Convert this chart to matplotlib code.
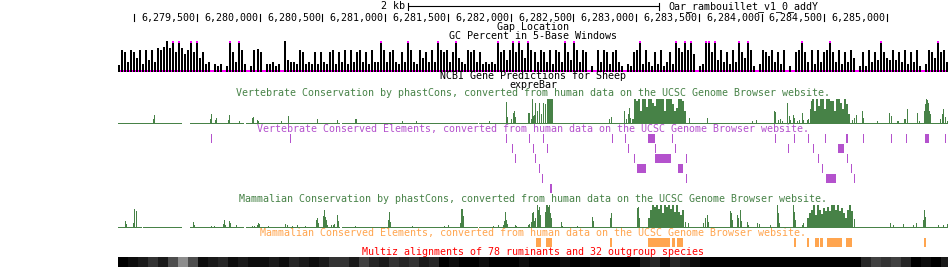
import matplotlib
matplotlib.use("Agg")
import matplotlib.pyplot as plt

# ---------------- data ----------------
CHROM = "Oar_rambouillet_v1_0_addY"
VIEW_START, VIEW_END = 6278870, 6285486
RULER_TICKS = [6279000, 6279500, 6280000, 6280500, 6281000, 6281500, 6282000,
               6282500, 6283000, 6283500, 6284000, 6284500, 6285000]
SCALE_BAR_START, SCALE_BAR_BP = 6281182, 2000
SCALE_BAR_LABEL = "2 kb"

# GC percent (5-base windows summarised), view range 30-70 %
GC_START, GC_STEP = 6278870, 24
GC_RANGE = (30, 70)
gc_pct = [39, 58, 56, 43, 58, 56, 48, 58, 40,
          58, 45, 58, 43, 61, 58, 62, 69, 61,
          75, 56, 75, 61, 53, 58, 75, 56, 75,
          48, 56, 40, 43, 28, 40, 38, 40, 28,
          38, 75, 56, 43, 75, 58, 40, 28, 38, 58,
          60, 56, 28, 40, 40, 43, 38, 40, 28,
          69, 45, 43, 43, 40, 58, 56, 40, 43,
          40, 56, 40, 56, 43, 40, 56, 58, 40,
          56, 43, 58, 40, 58, 43, 56, 58, 43,
          56, 40, 58, 43, 43, 75, 58, 43, 56,
          58, 43, 40, 56, 43, 75, 58, 43, 40,
          58, 48, 56, 43, 58, 43, 75, 58, 56,
          58, 43, 56, 75, 48, 43, 40, 58, 56,
          58, 43, 56, 40, 43, 40, 43, 40, 75,
          56, 58, 45, 58, 75, 56, 75, 58, 48, 75, 58, 56, 43,
          58, 56, 43, 58, 40, 58, 56, 43, 75, 56, 45, 75, 58, 43, 58, 56,
          28, 38, 28, 58, 43, 58, 56, 40, 56, 58, 43, 38, 28, 40, 38, 56, 58, 75,
          40, 58, 43, 38, 56, 40, 58, 38, 43, 56, 40, 75, 61, 56, 75, 58, 75, 53,
          28, 38, 40, 75, 75, 56, 75, 45, 58, 43, 56, 40, 58, 43, 75, 56, 48, 75, 58,
          38, 28, 40, 58, 56, 51, 58, 43, 56, 40, 58, 28, 38, 28, 56, 58, 75,
          56, 43, 58, 40, 58, 43, 56, 58, 75, 56, 43, 58, 40, 56, 43, 58, 48,
          28, 38, 56, 38, 58, 43, 56, 45, 75, 56, 48, 45, 58, 45, 56, 43, 58, 40, 56, 43, 58,
          38, 28, 40, 58, 56, 48, 75, 56, 58, 43, 40]

# Vertebrate phastCons (score 0-1)
vert_segments = [(6278870, 6279380), (6279444, 6279874), (6279890, 6280640),
                 (6280656, 6281740), (6281748, 6285486)]
vert_peak_pos = [6279149, 6279157, 6279603, 6279611, 6279643, 6279651, 6279747, 6279755, 6279834, 6279938,
                 6279946, 6279978, 6279986, 6280169, 6280225, 6280456, 6280616, 6280759, 6280767, 6281134,
                 6281245, 6281827, 6281963, 6281971, 6282003, 6282019, 6282027, 6282034, 6282138, 6282146,
                 6282162, 6282170, 6282178, 6282186, 6282194, 6282210, 6282226, 6282242, 6282258, 6282274,
                 6282290, 6282298, 6282306, 6282314, 6282322, 6282330,
                 6282784, 6282800, 6282903, 6282919, 6282935, 6282943, 6282951,
                 6283421, 6283565, 6283924, 6283955,
                 6284099, 6284107, 6284131, 6284147, 6284163, 6284203, 6284219, 6284227, 6284250, 6284258,
                 6284282, 6284298, 6284322, 6284330, 6284362, 6284370, 6284386, 6284394,
                 6284721, 6284737, 6284753, 6284800, 6284808, 6284920,
                 6285016, 6285032, 6285079, 6285087, 6285135, 6285143, 6285159, 6285239, 6285255,
                 6285295, 6285303, 6285311, 6285319, 6285327, 6285335, 6285343,
                 6285422, 6285438, 6285446, 6285462, 6285478]
vert_peak_score = [0.17, 0.33, 0.17, 0.38, 0.13, 0.19, 0.13, 0.33, 0.08, 0.21,
                   0.25, 0.13, 0.08, 0.06, 0.29, 0.17, 0.13, 0.17, 0.17, 0.06,
                   0.08, 0.06, 0.88, 0.25, 0.17, 0.42, 0.5, 0.25, 0.42, 0.42,
                   0.17, 1.0, 0.29, 0.33, 0.83, 0.5, 0.83, 0.38, 0.83, 0.79,
                   1.0, 1.0, 1.0, 1.0, 1.0, 1.0,
                   0.17, 0.25, 0.5, 0.17, 0.38, 0.63, 0.21,
                   0.21, 0.21, 0.06, 0.13,
                   0.5, 0.46, 0.13, 0.17, 0.08, 0.83, 0.29, 0.13, 0.33, 0.21,
                   0.08, 0.13, 0.42, 0.13, 0.13, 0.17, 0.58, 0.92,
                   0.13, 0.21, 0.33, 0.5, 0.21, 0.06,
                   0.42, 0.29, 0.08, 0.08, 0.17, 0.17, 0.58, 0.42, 0.08,
                   0.5, 0.79, 1.0, 0.96, 0.83, 0.5, 0.38,
                   0.17, 0.38, 0.58, 0.25, 0.08]
CONS_STEP = 16
vert_block1_start = 6282967
vert_block1 = [0.17, 1, 0.92, 1, 0.5, 1, 1, 0.67, 1, 1, 0.83, 0.71, 1, 1, 1, 1, 0.5, 1, 1, 1,
               0.79, 0.5, 0.63, 1, 1, 0.92, 0.5]
vert_block2_start = 6284402
vert_block2 = [1, 0.5, 1, 0.71, 1, 1, 0.58, 1, 1, 0.92, 0.92, 0.5, 1, 1, 0.83, 0.58, 1, 0.79, 0.38]

# Vertebrate conserved elements, packed rows: (start, end)
vert_elem_rows = [
    [(6279611, 6279621), (6280241, 6280251), (6281963, 6281973), (6282146, 6282156), (6282258, 6282268),
     (6282808, 6282818), (6282911, 6282921), (6283095, 6283150), (6283286, 6283296), (6284107, 6284117),
     (6284258, 6284268), (6284370, 6284380), (6284506, 6284516), (6284673, 6284689), (6284808, 6284818),
     (6285032, 6285042), (6285151, 6285161), (6285303, 6285335), (6285462, 6285472)],
    [(6282011, 6282021), (6282178, 6282188), (6282290, 6282300), (6282935, 6282945), (6283150, 6283160),
     (6283310, 6283320), (6284211, 6284221), (6284410, 6284420), (6284609, 6284657)],
    [(6282034, 6282044), (6282194, 6282204), (6282983, 6282993), (6283150, 6283278), (6283398, 6283408),
     (6284450, 6284460), (6284681, 6284691)],
    [(6282226, 6282236), (6283007, 6283079), (6283334, 6283373), (6284482, 6284492), (6284713, 6284723)],
    [(6282250, 6282260), (6283398, 6283408), (6284513, 6284593), (6284737, 6284747)],
    [(6282313, 6282330)],
]

# Mammalian phastCons
mam_segments = [(6278870, 6279061), (6279069, 6279380), (6279444, 6279874), (6279890, 6280640),
                (6280656, 6281740), (6281748, 6285486)]
mam_peak_pos = [6278926, 6278934, 6278990, 6278998, 6279013, 6279468, 6279476, 6279611, 6279635, 6279707,
                6279715, 6279723, 6279755, 6279763, 6279811, 6279938, 6279954, 6279978, 6279986, 6279994,
                6280066, 6280201, 6280217, 6280257, 6280297, 6280361, 6280448, 6280456, 6280464, 6280504,
                6280512, 6280520, 6280528, 6280536, 6280568, 6280584, 6280592, 6280616, 6280624, 6280759,
                6281022, 6281030, 6281038, 6281214, 6281469, 6281500, 6281596, 6281604, 6281612, 6281620,
                6281859, 6281899, 6281939, 6281947, 6281955, 6281963, 6281971, 6282034, 6282042, 6282138,
                6282146, 6282162, 6282170, 6282178, 6282186, 6282194, 6282210, 6282218, 6282226, 6282234,
                6282274, 6282282, 6282290, 6282298, 6282306, 6282314, 6282322, 6282401, 6282409, 6282529,
                6282648, 6282656, 6282792, 6282800, 6283007, 6283015, 6283023, 6283390, 6283413, 6283533,
                6283549, 6283565, 6283573, 6283748, 6283756, 6283764, 6283804, 6283812, 6283828, 6283836,
                6283884, 6283892, 6283963, 6283979, 6284067, 6284123, 6284131, 6284139, 6284250, 6284258,
                6284266, 6284322, 6284330, 6284737, 6285024, 6285048, 6285127, 6285207, 6285231, 6285287,
                6285295, 6285303, 6285406, 6285446, 6285478]
mam_peak_score = [0.26, 0.13, 0.17, 0.78, 0.7, 0.22, 0.09, 0.04, 0.04, 0.13,
                  0.3, 0.09, 0.26, 0.17, 0.07, 0.04, 0.04, 0.07, 0.17, 0.13,
                  0.04, 0.11, 0.07, 0.04, 0.07, 0.04, 0.3, 0.39, 0.17, 0.48,
                  0.74, 0.43, 0.3, 0.09, 0.07, 0.07, 0.13, 0.52, 0.26, 0.04,
                  0.3, 0.65, 0.22, 0.04, 0.04, 0.07, 0.17, 0.78, 0.78, 0.48,
                  0.04, 0.07, 0.09, 0.26, 0.65, 0.3, 0.13, 0.09, 0.04, 0.07,
                  0.13, 0.22, 0.61, 0.65, 0.26, 0.39, 0.96, 0.74, 0.87, 0.52,
                  0.65, 0.96, 0.96, 0.87, 0.96, 0.61, 0.39, 0.22, 0.04, 0.04,
                  0.43, 0.26, 0.39, 0.61, 0.83, 0.87, 0.39, 0.22, 0.17, 0.17,
                  0.39, 0.52, 0.22, 0.7, 0.61, 0.3, 0.52, 0.39, 0.74, 0.26,
                  0.22, 0.09, 0.17, 0.13, 0.09, 0.96, 0.61, 0.17, 0.96, 0.65,
                  0.3, 0.09, 0.17, 0.35, 0.17, 0.07, 0.13, 0.09, 0.17, 0.3,
                  0.74, 0.43, 0.09, 0.07, 0.13]
mam_block1_start = 6283095
mam_block1 = [0.39, 0.74, 0.96, 0.87, 0.96, 0.78, 0.96, 0.61, 0.96, 0.87, 0.96, 0.78, 0.96, 0.65,
              0.96, 0.65, 0.52, 0.74]
mam_block2_start = 6284362
mam_block2 = [0.39, 0.61, 0.74, 0.96, 0.52, 0.96, 0.74, 0.57, 0.83, 0.7, 0.87, 0.7, 0.96, 0.96,
              0.74, 0.96, 0.7, 0.83, 0.61, 0.39, 0.74, 0.96, 0.7]

# Mammalian conserved elements
mam_elems = [(6282202, 6282242), (6282282, 6282330), (6282792, 6282808), (6283095, 6283270),
             (6283286, 6283310), (6283326, 6283373), (6284258, 6284274), (6284362, 6284378),
             (6284426, 6284458), (6284466, 6284490), (6284521, 6284641), (6284673, 6284721),
             (6285295, 6285311)]

# Multiz conservation density (0 = none, 1 = full)
MULTIZ_START, MULTIZ_STEP = 6278870, 80
multiz_cons = [1, 0.95, 0.9, 0.8, 0.9, 0.7, 0.45, 0.7, 0.95, 0.9,
               0.85, 0.95, 0.9, 0.95, 0.95, 0.9, 0.95, 0.85, 0.9, 0.95,
               0.9, 0.8, 0.8, 0.9, 0.75, 0.85, 0.9, 0.8, 0.85, 0.8,
               0.9, 0.85, 1, 0.95, 1, 1, 0.95, 1, 1, 1,
               0.95, 1, 1, 1, 0.95, 1, 1, 0.95, 1, 1,
               1, 1, 0.9, 0.85, 0.95, 0.85, 0.9, 0.95, 1, 1,
               1, 1, 1, 1, 1, 1, 1, 1, 1, 1,
               1, 1, 1, 1, 0.85, 0.75, 0.8, 0.75, 0.85, 1,
               0.95, 1, 0.9]

track_labels = [
    ("Gap Location", "black"),
    ("GC Percent in 5-Base Windows", "black"),
    ("NCBI Gene Predictions for Sheep", "black"),
    ("expreBar", "black"),
    ("Vertebrate Conservation by phastCons, converted from human data on the UCSC Genome Browser website.", "green"),
    ("Vertebrate Conserved Elements, converted from human data on the UCSC Genome Browser website.", "purple"),
    ("Mammalian Conservation by phastCons, converted from human data on the UCSC Genome Browser website.", "green"),
    ("Mammalian Conserved Elements, converted from human data on the UCSC Genome Browser website.", "orange"),
    ("Multiz alignments of 78 ruminants and 32 outgroup species", "red"),
]

# ---------------- style / layout ----------------
COLORS = {"black": "black", "green": "#478247", "purple": "#b452cd",
          "orange": "#ffa54f", "red": "#ff0000", "magenta": "#ff00ff"}
LABEL_BASELINES = [29.5, 38.7, 79.3, 87.7, 96.3, 131.7, 201.5, 235.7, 255.0]
FONT = dict(family="DejaVu Sans Mono", fontsize=7.2)

W, H = 950, 267
X0, X1 = 118, 948
fig = plt.figure(figsize=(W / 100, H / 100), dpi=100)
ax = fig.add_axes([X0 / W, 0, (X1 - X0) / W, 1])
ax.set_xlim(VIEW_START, VIEW_END)
ax.set_ylim(H, 0)
ax.axis("off")
BP = (VIEW_END - VIEW_START) / (X1 - X0)  # bp per pixel
MID = (VIEW_START + VIEW_END) / 2

# scale bar
sb0, sb1 = SCALE_BAR_START, SCALE_BAR_START + SCALE_BAR_BP
ax.plot([sb0, sb1], [6, 6], color="black", lw=0.8, solid_capstyle="butt")
ax.plot([sb0, sb0], [2.5, 9.5], color="black", lw=0.8)
ax.plot([sb1, sb1], [2.5, 9.5], color="black", lw=0.8)
ax.text(sb0 - 3.5 * BP, 9.3, SCALE_BAR_LABEL, ha="right", va="baseline", **FONT)
ax.text(sb1 + 9 * BP, 9.3, CHROM, ha="left", va="baseline", **FONT)

# ruler
for t in RULER_TICKS:
    ax.plot([t, t], [13.8, 20.8], color="black", lw=0.8)
    if t - 60 * BP > VIEW_START:
        ax.text(t - 1.5 * BP, 20.5, f"{t:,}", ha="right", va="baseline", **FONT)

# labels
for (txt, col), yb in zip(track_labels, LABEL_BASELINES):
    ax.text(MID, yb, txt, ha="center", va="baseline", color=COLORS[col], **FONT)

# GC percent track
GC_BOTTOM, GC_HEIGHT = 72.0, 31.3
ax.broken_barh([(VIEW_START, VIEW_END - VIEW_START)], (70, 2), color=COLORS["magenta"], lw=0)
gc_x = [GC_START + i * GC_STEP for i in range(len(gc_pct))]
gc_h = [min(max(v - GC_RANGE[0], 0), GC_RANGE[1] - GC_RANGE[0]) / (GC_RANGE[1] - GC_RANGE[0]) * GC_HEIGHT
        for v in gc_pct]
ax.bar(gc_x, [-h for h in gc_h], width=2 * BP, bottom=GC_BOTTOM, align="edge", color="black", lw=0)
clip_x = [x for x, v in zip(gc_x, gc_pct) if v > GC_RANGE[1]]
ax.bar(clip_x, [-2] * len(clip_x), width=2 * BP, bottom=GC_BOTTOM - GC_HEIGHT + 2, align="edge",
       color=COLORS["magenta"], lw=0)


def wiggle(segments, pos, score, blocks, base, height, color):
    ax.broken_barh([(a, b - a) for a, b in segments], (base - 1, 1), color=color, lw=0)
    ax.bar(pos, [-s * height for s in score], width=BP, bottom=base - 1, align="edge", color=color, lw=0)
    for start, vals in blocks:
        xs = [start + i * CONS_STEP for i in range(len(vals))]
        ax.bar(xs, [-s * height for s in vals], width=CONS_STEP, bottom=base - 1, align="edge",
               color=color, lw=0)


wiggle(vert_segments, vert_peak_pos, vert_peak_score,
       [(vert_block1_start, vert_block1), (vert_block2_start, vert_block2)], 123.7, 24, COLORS["green"])
wiggle(mam_segments, mam_peak_pos, mam_peak_score,
       [(mam_block1_start, mam_block1), (mam_block2_start, mam_block2)], 228.0, 23, COLORS["green"])

# vertebrate elements
for r, row in enumerate(vert_elem_rows):
    ax.broken_barh([(a, max(b - a, BP)) for a, b in row], (134 + 10 * r, 9), color=COLORS["purple"], lw=0)

# mammalian elements
ax.broken_barh([(a, b - a) for a, b in mam_elems], (238, 9), color=COLORS["orange"], lw=0)

# multiz density
mz_x = [MULTIZ_START + i * MULTIZ_STEP for i in range(len(multiz_cons))]
ax.bar(mz_x, [11] * len(mz_x), width=MULTIZ_STEP, bottom=256.5, align="edge",
       color=[str(round(1 - c, 3)) for c in multiz_cons], lw=0)

fig.savefig("out.png", dpi=100)
